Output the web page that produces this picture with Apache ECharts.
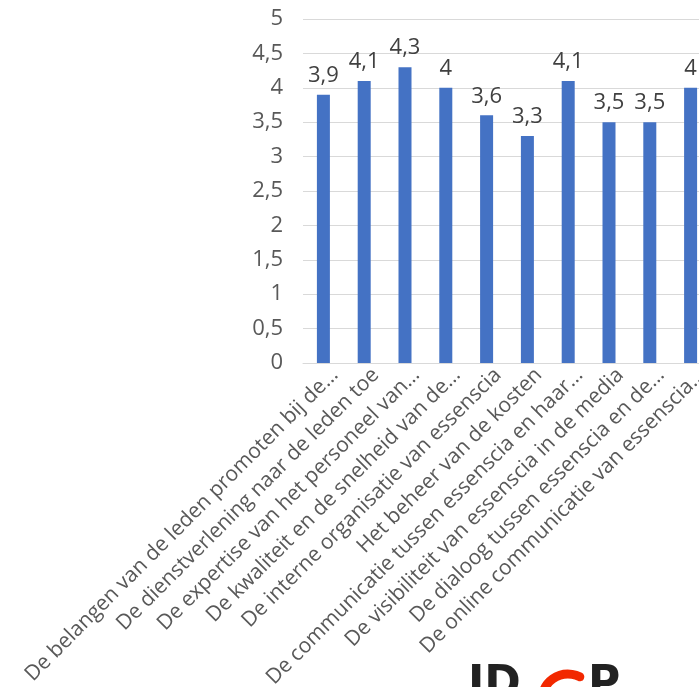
<!DOCTYPE html>
<html>
<head>
<meta charset="utf-8">
<script src="https://cdn.jsdelivr.net/npm/echarts@6/dist/echarts.min.js"></script>
<style>
  html, body { margin: 0; padding: 0; background: #fff; }
  #chart { width: 699px; height: 687px; }
</style>
</head>
<body>
<div id="chart"></div>
<script>
// categorieen (afgekapte labels zoals in de bron)
const categories = [
  'De belangen van de leden promoten bij de…',
  'De dienstverlening naar de leden toe',
  'De expertise van het personeel van…',
  'De kwaliteit en de snelheid van de…',
  'De interne organisatie van essenscia',
  'Het beheer van de kosten',
  'De communicatie tussen essenscia en haar…',
  'De visibiliteit van essenscia in de media',
  'De dialoog tussen essenscia en de…',
  'De online communicatie van essenscia…'
]
const scores = [3.9, 4.1, 4.3, 4, 3.6, 3.3, 4.1, 3.5, 3.5, 4]
const yTicks = [0, 0.5, 1, 1.5, 2, 2.5, 3, 3.5, 4, 4.5, 5]

const comma = v => String(v).replace('.', ',')

const chart = echarts.init(document.getElementById('chart'))
chart.setOption({
  animation: false,
  textStyle: { fontFamily: 'Open Sans' },
  grid: {
    left: 303,
    top: 19,
    width: 408,
    height: 344,
    containLabel: false,
    outerBoundsMode: 'none'
  },
  xAxis: {
    type: 'category',
    data: categories,
    axisLine: { lineStyle: { color: '#D9D9D9', width: 1 } },
    axisTick: { show: false },
    axisLabel: {
      rotate: 45,
      interval: 0,
      margin: 20,
      padding: [0, -16, 0, 0],
      color: '#595959',
      fontSize: 21,
      fontFamily: 'Open Sans'
    }
  },
  yAxis: {
    type: 'value',
    min: yTicks[0],
    max: yTicks[yTicks.length - 1],
    interval: 0.5,
    axisLine: { show: false },
    axisTick: { show: false },
    splitLine: { lineStyle: { color: '#D9D9D9', width: 1 } },
    axisLabel: {
      margin: 20,
      color: '#595959',
      fontSize: 22,
      fontFamily: 'Open Sans',
      formatter: v => comma(v)
    }
  },
  series: [{
    type: 'bar',
    data: scores,
    barWidth: 13,
    itemStyle: { color: '#4472C4' },
    label: {
      show: true,
      position: 'top',
      distance: 8,
      color: '#404040',
      fontSize: 22,
      fontFamily: 'Open Sans',
      formatter: p => comma(p.value)
    }
  }],
  // stukje logo onderaan (afgesneden in de bron)
  graphic: [
    {
      type: 'text',
      left: 468,
      top: 664,
      style: { text: 'JD', fill: '#222', font: 'bold 44px "DejaVu Sans"' }
    },
    {
      type: 'text',
      left: 588,
      top: 664,
      style: { text: 'P', fill: '#222', font: 'bold 44px "DejaVu Sans"' }
    },
    {
      type: 'arc',
      shape: { cx: 568, cy: 700, r: 26, startAngle: -Math.PI * 0.95, endAngle: -Math.PI * 0.35 },
      style: { stroke: '#F22800', lineWidth: 9, fill: null, lineCap: 'round' }
    }
  ]
})
</script>
</body>
</html>
